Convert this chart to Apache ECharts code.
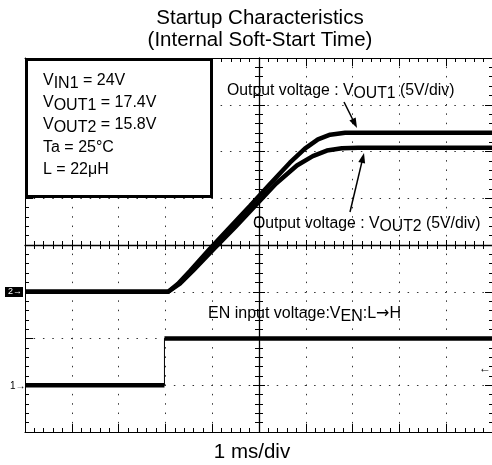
<!DOCTYPE html>
<html lang="en">
<head>
<meta charset="UTF-8">
<title>Startup Characteristics</title>
<script src="https://cdn.jsdelivr.net/npm/echarts@6/dist/echarts.min.js"></script>
<style>html,body{margin:0;padding:0;background:#fff}</style>
</head>
<body>
<div id="main" style="width:492px;height:465px"></div>
<script>
// time in ms (1 ms/div), voltages in V (ch2: 5 V/div)
var vout1Time = [0, 3.06, 3.27, 3.53, 3.95, 4.38, 4.81, 5.24, 5.66, 5.98, 6.26, 6.52, 6.84, 10];
var vout1Volt = [0, 0, 0.86, 2.25, 4.6, 6.9, 9.2, 11.55, 13.8, 15.3, 16.3, 16.8, 17.0, 17.0];
var vout2Time = [0, 3.06, 3.31, 3.59, 4.04, 4.49, 4.92, 5.36, 5.81, 6.15, 6.45, 6.77, 7.12, 10];
var vout2Volt = [0, 0, 0.86, 2.25, 4.6, 6.9, 9.2, 11.55, 13.5, 14.5, 15.1, 15.35, 15.4, 15.4];
// EN input, in divisions above ch1 ground
var enTime = [0, 2.98, 2.98, 10];
var enLevel = [0, 0, 1, 1];

// scope screen: 10 x 8 div, ground levels in div from the bottom
var ch2Ground = 3, ch2VoltsPerDiv = 5;
var ch1Ground = 1;

var FONT = '"Liberation Sans", Arial, sans-serif';

function ch2Data(times, volts) {
    return times.map(function (t, i) { return [t, ch2Ground + volts[i] / ch2VoltsPerDiv]; });
}
var enData = enTime.map(function (t, i) { return [t, ch1Ground + enLevel[i]]; });
// thick horizontal parts, thin edge
var enFlat = [enData[0], enData[1], null, enData[2], enData[3]];

function axis(dim, position, gridIndex, opt) {
    var a = {
        type: 'value', gridIndex: gridIndex, min: 0, max: dim === 'x' ? 10 : 8, interval: 1,
        position: position,
        axisLine: {show: opt.line !== false, onZero: false, lineStyle: {color: '#000', width: opt.width || 1}},
        axisTick: {show: true, inside: opt.inside, length: opt.major, lineStyle: {color: '#000', width: 1}},
        minorTick: {show: true, splitNumber: 5, length: opt.minor, lineStyle: {color: '#000', width: 1}},
        axisLabel: {show: false},
        splitLine: {show: false},
        minorSplitLine: {show: false}
    };
    if (opt.grid) {
        a.splitLine = {show: true, lineStyle: {color: '#333', width: 1, type: [1.5, 7.85], dashOffset: 0.75}};
    }
    return a;
}
function hidden(gridIndex) {
    return {type: 'value', gridIndex: gridIndex, show: false, min: 0, max: 1};
}

var chart = echarts.init(document.getElementById('main'));

function arrow(x1, y1, x2, y2) {
    var a = Math.atan2(y2 - y1, x2 - x1), c = Math.cos(a), s = Math.sin(a), L = 10, W = 3.5;
    return [
        {type: 'line', z: 20, shape: {x1: x1, y1: y1, x2: x2 - L * 0.7 * c, y2: y2 - L * 0.7 * s},
            style: {stroke: '#000', lineWidth: 1.5}},
        {type: 'polygon', z: 20, shape: {points: [[x2, y2],
            [x2 - L * c + W * s, y2 - L * s - W * c], [x2 - L * c - W * s, y2 - L * s + W * c]]},
            style: {fill: '#000'}}
    ];
}

function label(x, y, text, size, align) {
    var sub = {fontSize: size, fontFamily: FONT, fill: '#000', padding: [5, 0, 0, 0]};
    var arr = {fontSize: size, fontFamily: '"DejaVu Sans", sans-serif', fill: '#000'};
    return {
        type: 'text', z: 20, x: x, y: y,
        style: {text: text, fontSize: size, fontFamily: FONT, fill: '#000',
            align: align || 'left', verticalAlign: 'middle', rich: {s: sub, a: arr}}
    };
}

var graphics = [
    label(260, 18, 'Startup Characteristics', 20.5, 'center'),
    label(260, 40, '(Internal Soft-Start Time)', 20.5, 'center'),
    {type: 'rect', z: 15, shape: {x: 26.5, y: 59.5, width: 185, height: 137},
        style: {fill: '#fff', stroke: '#000', lineWidth: 3}},
    label(43, 81, 'V{s|IN1} = 24V', 16),
    label(43, 103, 'V{s|OUT1} = 17.4V', 16),
    label(43, 125, 'V{s|OUT2} = 15.8V', 16),
    label(43, 148, 'Ta = 25°C', 16),
    label(43, 170, 'L = 22μH', 16),
    label(227, 91, 'Output voltage : V{s|OUT1} (5V/div)', 15.8),
    label(253, 224, 'Output voltage : V{s|OUT2} (5V/div)', 15.8),
    label(208, 314, 'EN input voltage:V{s|EN}:L{a|→}H', 16),
    label(252, 452, '1 ms/div', 20.5, 'center'),
    {type: 'rect', z: 20, shape: {x: 5, y: 287, width: 18, height: 10}, style: {fill: '#000'}},
    {type: 'text', z: 21, x: 8, y: 292, style: {text: '2→', fontSize: 9, fontFamily: FONT, fill: '#fff', verticalAlign: 'middle'}},
    {type: 'text', z: 21, x: 10, y: 386, style: {text: '1→', fontSize: 10, fontFamily: FONT, fill: '#000', verticalAlign: 'middle'}},
    {type: 'text', z: 21, x: 479, y: 369, style: {text: '←', fontSize: 12, fontFamily: FONT, fill: '#000', verticalAlign: 'middle'}}
].concat(arrow(344, 102, 357, 128), arrow(350, 212, 364, 153));

var option = {
    backgroundColor: '#fff',
    animation: false,
    grid: [
        // screen
        {left: 25, top: 58, width: 468, height: 374, outerBoundsMode: 'none'},
        // upper half, its bottom edge is the horizontal centre line
        {left: 25, top: 58, width: 468, height: 187, outerBoundsMode: 'none'},
        // left half, its right edge is the vertical centre line
        {left: 25, top: 58, width: 234, height: 374, outerBoundsMode: 'none'}
    ],
    xAxis: [
        axis('x', 'bottom', 0, {inside: true, major: 8, minor: 4, grid: true}),
        axis('x', 'top', 0, {inside: true, major: 8, minor: 4}),
        axis('x', 'bottom', 1, {inside: true, major: 5, minor: 4, width: 1.3}),
        axis('x', 'bottom', 1, {inside: false, major: 5, minor: 4, line: false}),
        hidden(2)
    ],
    yAxis: [
        axis('y', 'left', 0, {inside: true, major: 8, minor: 4, grid: true}),
        axis('y', 'right', 0, {inside: true, major: 8, minor: 4}),
        hidden(1),
        axis('y', 'right', 2, {inside: true, major: 6, minor: 4, width: 1.3}),
        axis('y', 'right', 2, {inside: false, major: 6, minor: 4, line: false})
    ],
    series: [
        {name: 'VOUT1', type: 'line', data: ch2Data(vout1Time, vout1Volt), showSymbol: false,
            lineStyle: {color: '#000', width: 4.5}, z: 5},
        {name: 'VOUT2', type: 'line', data: ch2Data(vout2Time, vout2Volt), showSymbol: false,
            lineStyle: {color: '#000', width: 4.5}, z: 5},
        {name: 'EN', type: 'line', data: enFlat, showSymbol: false, connectNulls: false,
            lineStyle: {color: '#000', width: 4.5}, z: 5},
        {name: 'EN edge', type: 'line', data: enData, showSymbol: false,
            lineStyle: {color: '#000', width: 1}, z: 5}
    ],
    graphic: graphics
};

chart.setOption(option);
</script>
</body>
</html>
